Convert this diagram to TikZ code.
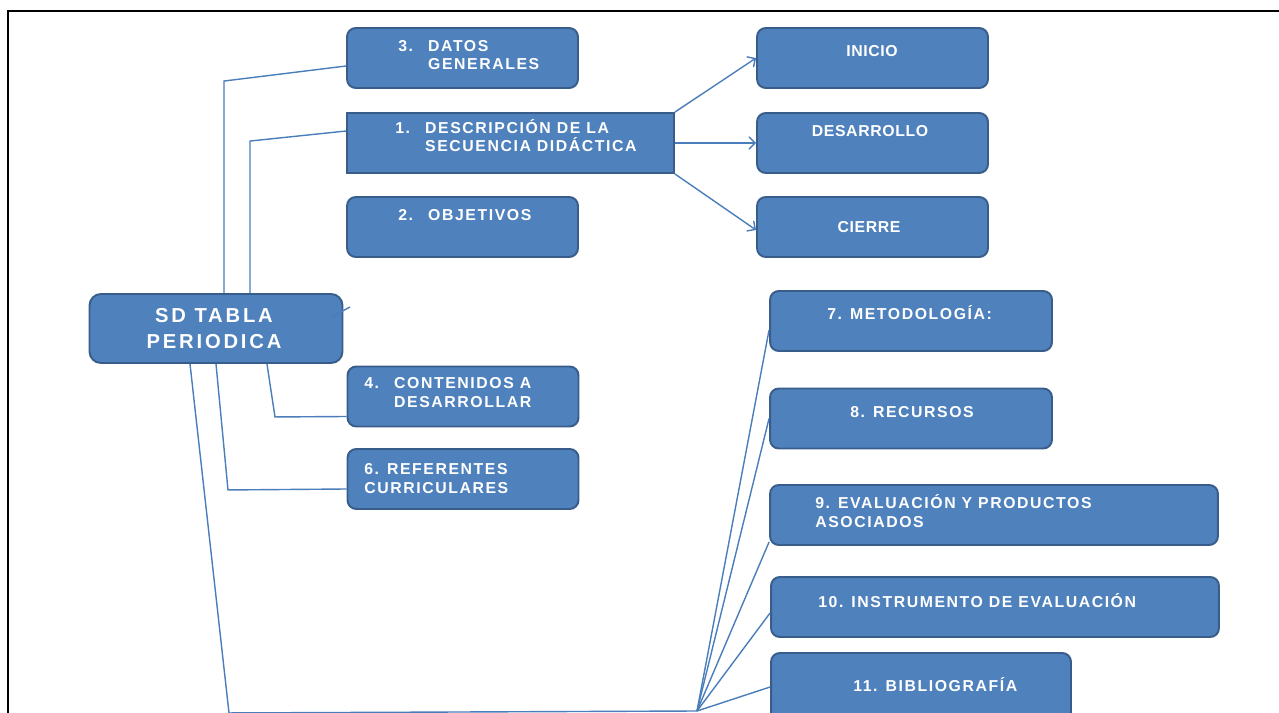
\documentclass[tikz,border=0pt]{standalone}
\usepackage{fontspec}
\setmainfont{Liberation Sans}
\newfontfamily\cardfont[LetterSpace=10]{Liberation Sans Bold}
\usetikzlibrary{arrows.meta}
\definecolor{cardfill}{HTML}{4F81BD}
\definecolor{cardline}{HTML}{385D8A}
\definecolor{wireblue}{HTML}{4A7EBB}
\newcommand{\cardnum}[1]{\makebox[17pt][l]{#1}}

\begin{document}
\begin{tikzpicture}[x=0.02cm, y=-0.02cm, >={Straight Barb[length=3.5pt,width=7pt]},
  card/.style={draw=cardline, fill=cardfill, line width=1.1pt, rounded corners=5pt,
    minimum width=4.62cm, minimum height=1.2cm, inner sep=0pt},
  cardtxt/.style={text=white, inner sep=0pt, align=left, anchor=base west,
    font=\cardfont\fontsize{9}{10.8}\selectfont},
  phasetxt/.style={cardtxt, anchor=base, align=center,
    font=\cardfont\fontsize{9}{10.8}\selectfont\addfontfeature{LetterSpace=4}},
  wire/.style={draw=wireblue, line width=0.8pt}]
\useasboundingbox (0,0) rectangle (1279,713);
\clip (0,0) rectangle (1279,713);
% page frame, top and left edge only
\draw[line width=0.9pt] (8,713) -- (8,11) -- (1279,11);

% root card
\node[card, minimum width=5.06cm, minimum height=1.38cm, rounded corners=6.5pt] (sd) at (216,328.5) {};
\node[cardtxt, anchor=center, align=center,
  font=\cardfont\fontsize{11.5}{14.7}\selectfont\addfontfeature{LetterSpace=14}]
  (sd-t) at (214,328.4) {SD TABLA\\PERIODICA};

% left column (two-line labels sit on their last baseline)
\node[card] (datos) at (462.5,58) {};
\node[card, sharp corners, minimum width=6.54cm] (desc) at (510.5,143) {};
\node[card] (obj) at (462.5,227) {};
\node[card] (cont) at (463,396.5) {};
\node[card] (refs) at (463,479) {};
\node[cardtxt] (datos-t) at (398,70) {\cardnum{3.}DATOS\\\cardnum{}GENERALES};
\node[cardtxt] (desc-t) at (395,152) {\cardnum{1.}DESCRIPCIÓN DE LA\\\cardnum{}SECUENCIA DIDÁCTICA};
\node[cardtxt] (obj-t) at (398,220) {\cardnum{2.}OBJETIVOS};
\node[cardtxt] (cont-t) at (364,407) {\cardnum{4.}CONTENIDOS A\\\cardnum{}DESARROLLAR};
\node[cardtxt] (refs-t) at (364,493) {6. REFERENTES\\CURRICULARES};

% phases of the sequence
\node[card] (inicio) at (872.5,58) {};
\node[card] (desa) at (872.5,143) {};
\node[card] (cierre) at (872.5,227) {};
\node[phasetxt] (inicio-t) at (872,57) {INICIO};
\node[phasetxt] (desa-t) at (870,137) {DESARROLLO};
\node[phasetxt] (cierre-t) at (869,233) {CIERRE};

% right column
\node[card, minimum width=5.64cm] (metod) at (911,321) {};
\node[card, minimum width=5.64cm] (recur) at (911,418.5) {};
\node[card, minimum width=8.96cm] (eval) at (994,515) {};
\node[card, minimum width=8.96cm] (instr) at (995,607) {};
\node[card, minimum width=6cm, minimum height=1.54cm] (biblio) at (921,691.5) {};
\node[cardtxt] (metod-t) at (827,319) {7. METODOLOGÍA:};
\node[cardtxt] (recur-t) at (850,417) {8. RECURSOS};
\node[cardtxt] (eval-t) at (815,527) {9. EVALUACIÓN Y PRODUCTOS\\ASOCIADOS};
\node[cardtxt] (instr-t) at (818,607) {10. INSTRUMENTO DE EVALUACIÓN};
\node[cardtxt] (biblio-t) at (853,691) {11. BIBLIOGRAFÍA};

% connectors from the root
\draw[wire] ([xshift=0.16cm]sd.north) -- ++(0,-212) -- ([yshift=-0.16cm]datos.west);
\draw[wire] ([xshift=0.68cm]sd.north) -- ++(0,-152) -- ([yshift=0.24cm]desc.west);
\draw[wire] ([xshift=-0.27cm,yshift=0.21cm]sd.east) -- ++(20,-11);
\draw[wire] ([xshift=1.02cm]sd.south) -- ++(8,53) -- ([yshift=-0.4cm]cont.west);
\draw[wire] (sd.south) -- ++(12,126) -- ([yshift=-0.2cm]refs.west);
\coordinate (hub) at (697,711);
\draw[wire] ([xshift=-0.52cm]sd.south) -- ++(39,349) -- (hub);
\foreach \b/\s in {metod/-0.18cm, recur/0cm, eval/-0.54cm, instr/-0.12cm, biblio/0.09cm}
  \draw[wire] (hub) -- ([yshift=\s]\b.west);

% phases
\draw[wire, ->] (desc.north east) -- (inicio.west);
\draw[wire, ->] (desc.east) -- (desa.west);
\draw[wire, ->] (desc.south east) -- ([yshift=-0.06cm]cierre.west);
\end{tikzpicture}
\end{document}
